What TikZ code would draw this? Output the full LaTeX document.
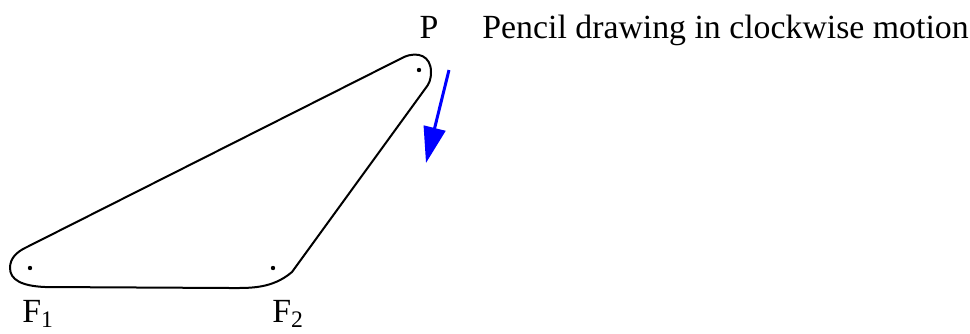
\documentclass[tikz,border=0pt]{standalone}
\usepackage{fontspec}
\setmainfont{Liberation Serif}
\usetikzlibrary{arrows.meta}
\definecolor{pencil}{HTML}{0000FF}

\begin{document}
\begin{tikzpicture}[x=0.5pt, y=-0.5pt,
  lbl/.style={inner sep=0pt, font=\fontsize{16.9}{20}\selectfont},
  focus/.style={circle, fill, inner sep=0pt, minimum size=2.2pt}
]
  \useasboundingbox (0,0) rectangle (970,333);

  % the three pins
  \node[focus] (f1) at (30,268) {};
  \node[focus] (f2) at (273,268) {};
  \node[focus] (p) at (419,70) {};

  % string loop
  \draw[line width=1pt, line join=round]
    (25,248) -- (404,57) .. controls (418,51) and (431,56) .. (431,72)
    .. controls (431,80) and (429,84) .. (425,89) -- (292,272)
    .. controls (272,289) and (250,288) .. (230,288) -- (45,287)
    .. controls (22,286) and (10,280) .. (10,268)
    .. controls (10,258) and (17,252) .. (25,248) -- cycle;

  \node[lbl, anchor=base west] (lf1) at (22,322) {F\textsubscript{1}};
  \node[lbl, anchor=base west] (lf2) at (272,322) {F\textsubscript{2}};
  \node[lbl, anchor=base] (lp) at (429,38) {P};
  \node[lbl, anchor=base west] (note) at (482,38) {Pencil drawing in clockwise motion};

  \coordinate (a0) at (449,70);
  \coordinate (a1) at (426,163);
  \draw[pencil, line width=1.5pt, -{Triangle[length=18pt, width=11pt]}] (a0) -- (a1);
\end{tikzpicture}
\end{document}
